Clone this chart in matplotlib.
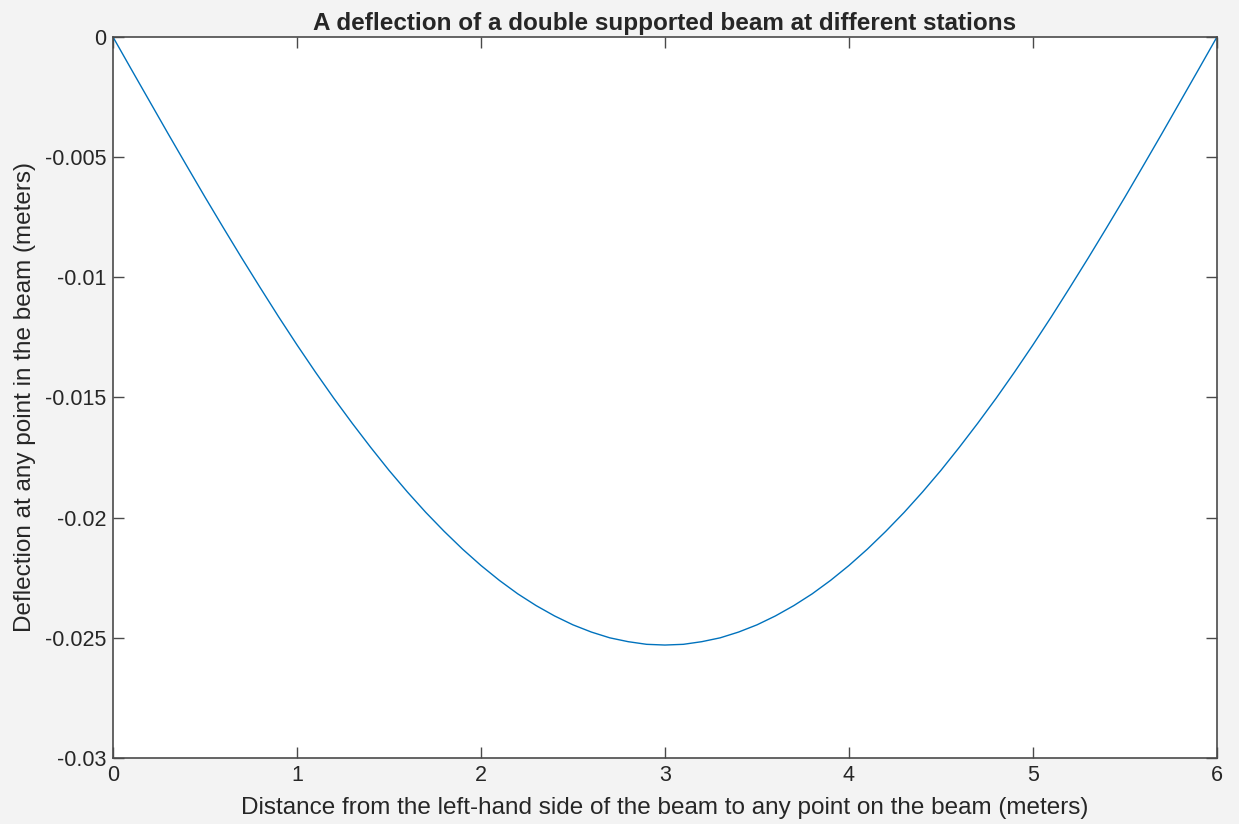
import matplotlib.pyplot as plt

# stations along the beam (m) and the deflection (m)
station = [0.0, 0.1, 0.2, 0.3, 0.4, 0.5, 0.6, 0.7, 0.8, 0.9, 1.0,
           1.1, 1.2, 1.3, 1.4, 1.5, 1.6, 1.7, 1.8, 1.9, 2.0,
           2.1, 2.2, 2.3, 2.4, 2.5, 2.6, 2.7, 2.8, 2.9, 3.0,
           3.1, 3.2, 3.3, 3.4, 3.5, 3.6, 3.7, 3.8, 3.9, 4.0,
           4.1, 4.2, 4.3, 4.4, 4.5, 4.6, 4.7, 4.8, 4.9, 5.0,
           5.1, 5.2, 5.3, 5.4, 5.5, 5.6, 5.7, 5.8, 5.9, 6.0]
deflection = [0.0, -0.00135, -0.00269, -0.00403, -0.00535, -0.00666,
              -0.00794, -0.00920, -0.01043, -0.01164, -0.01281,
              -0.01394, -0.01503, -0.01607, -0.01707, -0.01803,
              -0.01893, -0.01978, -0.02057, -0.02131, -0.02199,
              -0.02261, -0.02317, -0.02366, -0.02409, -0.02446,
              -0.02476, -0.02500, -0.02516, -0.02527, -0.02530,
              -0.02527, -0.02516, -0.02500, -0.02476, -0.02446,
              -0.02409, -0.02366, -0.02317, -0.02261, -0.02199,
              -0.02131, -0.02057, -0.01978, -0.01893, -0.01803,
              -0.01707, -0.01607, -0.01503, -0.01394, -0.01281,
              -0.01164, -0.01043, -0.00920, -0.00794, -0.00666,
              -0.00535, -0.00403, -0.00269, -0.00135, 0.0]
xticks = [0, 1, 2, 3, 4, 5, 6]
yticks = [0, -0.005, -0.01, -0.015, -0.02, -0.025, -0.03]
ytick_labels = ["0", "-0.005", "-0.01", "-0.015", "-0.02", "-0.025", "-0.03"]

plt.rcParams['font.family'] = ['Liberation Sans', 'DejaVu Sans']

fig = plt.figure(figsize=(12.39, 8.24), dpi=100, facecolor='#f3f3f3')
ax = fig.add_axes([0.0912, 0.0801, 0.8910, 0.8750])
ax.set_facecolor('white')

ax.plot(station, deflection, color='#0072BD', linewidth=1.0)

ax.set_xlim(0, 6)
ax.set_ylim(-0.03, 0)
ax.set_xticks(xticks)
ax.set_xticklabels([str(t) for t in xticks])
ax.set_yticks(yticks)
ax.set_yticklabels(ytick_labels)

axis_col = '#4a4a4a'
for sp in ax.spines.values():
    sp.set_color(axis_col)
    sp.set_linewidth(1.2)
ax.tick_params(direction='in', length=8, width=1.0, color=axis_col,
               top=True, right=True, labelsize=15.5, labelcolor='#262626', pad=5)

ax.set_title("A deflection of a double supported beam at different stations",
             fontsize=17.5, fontweight='bold', color='#262626', pad=5)
ax.set_xlabel("Distance from the left-hand side of the beam to any point on the beam (meters)",
              fontsize=17.5, color='#262626', labelpad=8)
ax.set_ylabel("Deflection at any point in the beam (meters)",
              fontsize=17.5, color='#262626', labelpad=6)

plt.savefig('out.png', dpi=100, facecolor=fig.get_facecolor())
